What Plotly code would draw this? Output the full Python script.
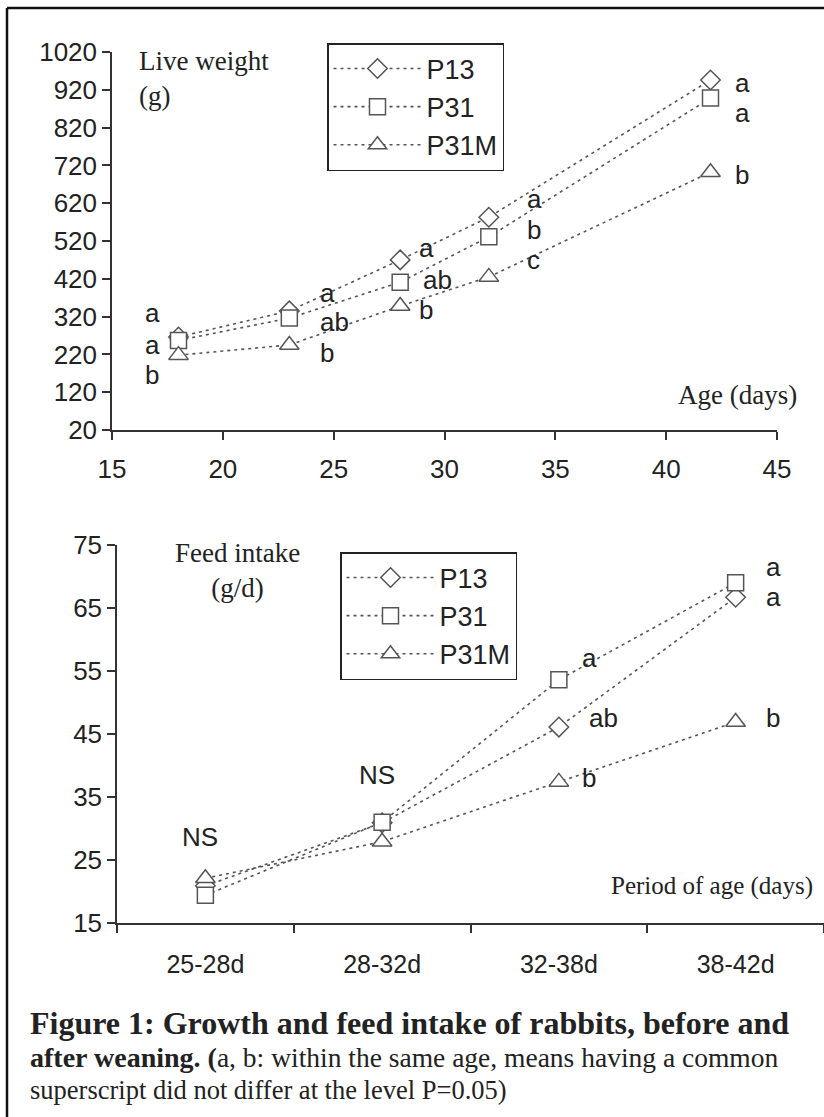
import plotly.graph_objects as go

# ---------------- data ----------------
series_names = ["P13", "P31", "P31M"]

age_days = [18, 23, 28, 32, 42]
lw_p13 = [266, 335, 470, 583, 946]
lw_p31 = [257, 316, 411, 531, 898]
lw_p31m = [218, 245, 348, 425, 702]

periods = ["25-28d", "28-32d", "32-38d", "38-42d"]
fi_p13 = [20.9, 30.9, 46.1, 66.7]
fi_p31 = [19.4, 31.0, 53.6, 69.0]
fi_p31m = [22.1, 27.9, 37.4, 46.9]

x_ticks_top = [15, 20, 25, 30, 35, 40, 45]
y_ticks_top = [20, 120, 220, 320, 420, 520, 620, 720, 820, 920, 1020]
y_ticks_bot = [15, 25, 35, 45, 55, 65, 75]

# significance letters (text, anchor x, anchor y in data units)
lw_letters = ["a", "a", "b", "a", "ab", "b", "a", "ab", "b", "a", "b", "c", "a", "a", "b"]
lw_letter_x = [16.4, 16.4, 16.4, 24.3, 24.3, 24.3, 28.75, 28.95, 28.75, 33.65, 33.65, 33.65, 43.0, 43.0, 43.0]
lw_letter_y = [330, 245, 166, 382, 305, 225, 501, 417, 337, 631, 549, 470, 938, 859, 695]

fi_letters = ["NS", "NS", "a", "ab", "b", "a", "a", "b"]
fi_letter_x = [-0.03, 0.97, 2.12, 2.16, 2.12, 3.16, 3.16, 3.16]
fi_letter_y = [28.7, 38.5, 57.0, 47.5, 38.0, 71.5, 66.7, 47.5]

# ---------------- styling ----------------
W, H = 824, 1117
SANS = "Liberation Sans, Arial, sans-serif"
SERIF = "Liberation Serif, Times New Roman, serif"
LINE_C = "#555555"
TXT_C = "#222222"
symbols = ["diamond", "square", "triangle-up"]
sizes = [15, 16, 17]


def px_x(p):
    return p / W


def px_y(p):
    return 1 - p / H


fig = go.Figure()

top_series = [lw_p13, lw_p31, lw_p31m]
bot_series = [fi_p13, fi_p31, fi_p31m]

for name, ys, sym, sz in zip(series_names, top_series, symbols, sizes):
    fig.add_trace(go.Scatter(
        x=age_days, y=ys, name=name, mode="lines+markers",
        xaxis="x", yaxis="y", legend="legend",
        line=dict(color=LINE_C, width=1.6, dash="3px,4px"),
        marker=dict(symbol=sym, size=sz, color="white",
                    line=dict(color=LINE_C, width=1.5)),
    ))

for name, ys, sym, sz in zip(series_names, bot_series, symbols, sizes):
    fig.add_trace(go.Scatter(
        x=periods, y=ys, name=name, mode="lines+markers",
        xaxis="x2", yaxis="y2", legend="legend2",
        line=dict(color=LINE_C, width=1.6, dash="3px,4px"),
        marker=dict(symbol=sym, size=sz, color="white",
                    line=dict(color=LINE_C, width=1.5)),
    ))

axis_common = dict(
    showgrid=False, zeroline=False, showline=True, linecolor="#333333",
    linewidth=1.5, ticks="outside", ticklen=8, tickwidth=1.5, automargin=False,
    tickcolor="#333333", tickfont=dict(family=SANS, size=26, color=TXT_C),
)

annotations = []
for t, x, y in zip(lw_letters, lw_letter_x, lw_letter_y):
    annotations.append(dict(text=t, x=x, y=y, xref="x", yref="y",
                            showarrow=False, xanchor="left",
                            font=dict(family=SANS, size=26, color=TXT_C)))
for t, x, y in zip(fi_letters, fi_letter_x, fi_letter_y):
    annotations.append(dict(text=t, x=x, y=y, xref="x2", yref="y2",
                            showarrow=False, xanchor="center" if t == "NS" else "left",
                            font=dict(family=SANS, size=26, color=TXT_C)))

serif_font = dict(family=SERIF, size=27, color=TXT_C)
annotations += [
    dict(text="Live weight<br>(g)", x=px_x(137), y=px_y(44), xref="paper", yref="paper",
         xanchor="left", yanchor="top", align="left", showarrow=False, font=serif_font),
    dict(text="Age (days)", x=px_x(799), y=px_y(395), xref="paper", yref="paper",
         xanchor="right", yanchor="middle", showarrow=False, font=serif_font),
    dict(text="Feed intake<br>(g/d)", x=px_x(237), y=px_y(536), xref="paper", yref="paper",
         xanchor="center", yanchor="top", align="center", showarrow=False, font=serif_font),
    dict(text="Period of age (days)", x=px_x(815), y=px_y(886), xref="paper", yref="paper",
         xanchor="right", yanchor="middle", showarrow=False,
         font=dict(family=SERIF, size=25, color=TXT_C)),
    dict(text="<b>Figure 1: Growth and feed intake of rabbits, before and</b>",
         x=px_x(28), y=px_y(1023), xref="paper", yref="paper", xanchor="left",
         yanchor="middle", showarrow=False, font=dict(family=SERIF, size=32, color=TXT_C)),
    dict(text="<b>after weaning. (</b><span style='font-size:27.5px'>a, b: within the same age, means having a common</span>",
         x=px_x(28), y=px_y(1057), xref="paper", yref="paper", xanchor="left",
         yanchor="middle", showarrow=False, font=dict(family=SERIF, size=28, color=TXT_C)),
    dict(text="superscript did not differ at the level P=0.05)",
         x=px_x(28), y=px_y(1090), xref="paper", yref="paper", xanchor="left",
         yanchor="middle", showarrow=False, font=dict(family=SERIF, size=26.5, color=TXT_C)),
]

legend_common = dict(
    xanchor="left", yanchor="top", bgcolor="white", bordercolor="#222222",
    borderwidth=1.5, font=dict(family=SANS, size=27, color=TXT_C),
    itemwidth=88, tracegroupgap=0, traceorder="normal",
)

fig.update_layout(
    width=W, height=H, margin=dict(l=0, r=0, t=0, b=0, pad=0, autoexpand=False),
    paper_bgcolor="white", plot_bgcolor="white", showlegend=True,
    xaxis=dict(axis_common, domain=[px_x(112), px_x(777)], range=[15, 45],
               tickvals=x_ticks_top, anchor="y", ticklabelstandoff=7),
    yaxis=dict(axis_common, domain=[px_y(430), px_y(52)], range=[20, 1020],
               tickvals=y_ticks_top, anchor="x"),
    xaxis2=dict(axis_common, domain=[px_x(117), 1.0], type="category",
                categoryorder="array", categoryarray=periods, range=[-0.5, 3.5],
                tickson="boundaries", anchor="y2", ticklabelstandoff=18,
                tickfont=dict(family=SANS, size=25, color=TXT_C)),
    yaxis2=dict(axis_common, domain=[px_y(923), px_y(545)], range=[15, 75],
                tickvals=y_ticks_bot, anchor="x2"),
    legend=dict(legend_common, x=px_x(327), y=px_y(43)),
    legend2=dict(legend_common, x=px_x(340), y=px_y(552)),
    annotations=annotations,
    shapes=[
        dict(type="line", xref="paper", yref="paper", x0=px_x(7), x1=1.0,
             y0=px_y(8), y1=px_y(8), line=dict(color="#111111", width=2.5)),
        dict(type="line", xref="paper", yref="paper", x0=px_x(7), x1=px_x(7),
             y0=px_y(8), y1=0.0, line=dict(color="#111111", width=2.5)),
    ],
)

fig.write_html(
    "out.html",
    post_script=(
        "var s=document.createElement('style');"
        "s.innerHTML='html,body{margin:0 !important;padding:0 !important;overflow:hidden;}';"
        "document.head.appendChild(s);"
    ),
)
